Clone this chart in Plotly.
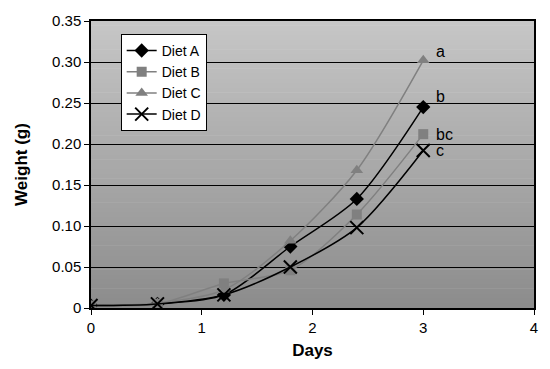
import plotly.graph_objects as go

days = [0, 0.6, 1.2, 1.8, 2.4, 3.0]
diet_a = [0.003, 0.005, 0.016, 0.075, 0.133, 0.245]
diet_b = [0.003, 0.005, 0.030, 0.046, 0.114, 0.212]
diet_c = [0.003, 0.006, 0.022, 0.082, 0.168, 0.302]
diet_d = [0.003, 0.005, 0.016, 0.050, 0.098, 0.192]
series_names = ["Diet A", "Diet B", "Diet C", "Diet D"]
letters = ["b", "bc", "a", "c"]
y_ticks = [0, 0.05, 0.10, 0.15, 0.20, 0.25, 0.30, 0.35]
y_ticktext = ["0", "0.05", "0.10", "0.15", "0.20", "0.25", "0.30", "0.35"]
x_ticks = [0, 1, 2, 3, 4]

series = [diet_a, diet_b, diet_c, diet_d]
colors = ["#000000", "#808080", "#808080", "#000000"]
symbols = ["diamond", "square", "triangle-up", "x-thin"]
sizes = [11, 10, 11, 13]
label_yshift = [11, 0, 9, 0]

FONT = "Liberation Sans, Arial"

fig = go.Figure()
for name, ys, col, sym, sz in zip(series_names, series, colors, symbols, sizes):
    marker = dict(symbol=sym, size=sz, color=col)
    if sym == "x-thin":
        marker["line"] = dict(width=2, color=col)
    fig.add_trace(go.Scatter(
        x=days, y=ys, name=name, mode="lines+markers",
        line=dict(color=col, width=1.5, shape="spline", smoothing=0.8),
        marker=marker,
    ))

# letter labels next to last points
for ys, lab, dy in zip(series, letters, label_yshift):
    fig.add_annotation(x=days[-1], y=ys[-1], text=lab, showarrow=False,
                       xanchor="left", yanchor="middle", xshift=11, yshift=dy,
                       font=dict(family=FONT, size=16, color="black"))

# gradient background
n = 60
top = (198, 198, 198)
bot = (140, 140, 140)
for i in range(n):
    t = i / (n - 1)
    c = tuple(int(round(bot[k] + (top[k] - bot[k]) * t)) for k in range(3))
    fig.add_shape(type="rect", xref="x domain", yref="y domain",
                  x0=0, x1=1, y0=i / n, y1=(i + 1) / n + 0.002,
                  fillcolor="rgb(%d,%d,%d)" % c, line=dict(width=0), layer="below")

fig.update_layout(
    width=550, height=369,
    margin=dict(l=91, r=14, t=17, b=61),
    paper_bgcolor="white", plot_bgcolor="rgba(0,0,0,0)",
    font=dict(family=FONT, size=15, color="black"),
    showlegend=True,
    legend=dict(x=0.067, y=0.955, xanchor="left", yanchor="top",
                bgcolor="white", bordercolor="black", borderwidth=1,
                font=dict(size=14), tracegroupgap=0),
)
fig.update_xaxes(range=[0, 4], tickvals=x_ticks, showgrid=False, zeroline=False,
                 showline=True, linecolor="black", linewidth=1.5, mirror=True,
                 ticks="outside", ticklen=5, tickcolor="black",
                 title=dict(text="<b>Days</b>", font=dict(size=17), standoff=9))
fig.update_yaxes(range=[0, 0.35], tickvals=y_ticks, ticktext=y_ticktext,
                 showgrid=True, gridcolor="black", gridwidth=1, zeroline=False,
                 showline=True, linecolor="black", linewidth=1.5, mirror=True,
                 ticks="outside", ticklen=5, tickcolor="black",
                 title=dict(text="<b>Weight (g)</b>", font=dict(size=17), standoff=20))

fig.write_html("out.html", config={"displayModeBar": False},
               post_script="document.body.style.margin='0px';")
